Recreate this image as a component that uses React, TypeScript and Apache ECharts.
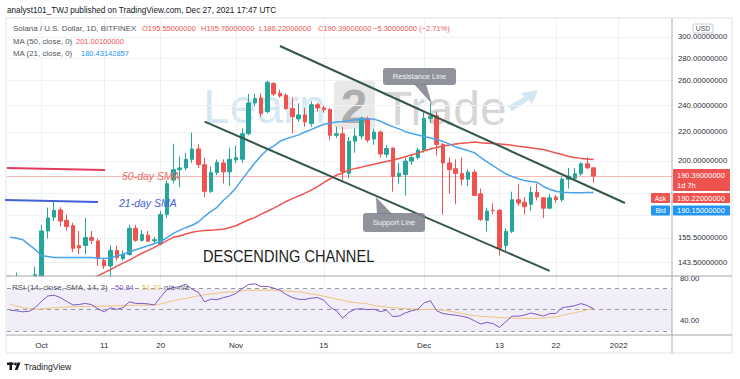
import React, { useEffect, useRef } from "react";
import * as echarts from "echarts";

const FONT = '"Liberation Sans", Arial, sans-serif';

// Daily candles, Sep 26 2021 -> Dec 28 2021 (94 sessions), Solana / USD, Bitfinex
const opens = [136.0,133.0,134.5,133.0,135.5,137.2,159.1,166.4,170.4,164.7,161.9,151.7,151.7,155.7,154.0,144.4,141.9,149.3,145.3,147.3,160.5,154.3,156.9,154.0,152.5,167.9,187.9,194.4,195.5,201.1,208.0,197.6,181.1,192.6,198.7,193.0,200.7,201.1,218.6,241.8,245.8,235.0,257.8,249.5,248.0,237.4,229.5,232.5,226.0,240.4,237.9,236.6,217.5,218.6,192.1,213.4,217.0,229.9,214.9,219.8,204.4,208.6,190.1,191.4,199.9,202.2,207.3,229.9,231.9,211.1,198.7,195.0,192.0,188.4,192.8,179.6,164.7,170.2,170.2,151.7,158.9,176.2,174.8,173.6,180.5,177.3,171.4,177.7,176.2,188.4,189.0,191.8,198.2,195.55];
const closes = [133.0,134.5,133.0,135.5,137.9,159.1,166.0,170.2,164.3,161.4,150.3,150.5,155.7,154.3,145.3,141.9,149.3,145.8,147.3,160.5,154.3,157.3,153.9,154.6,167.9,185.7,194.4,195.5,201.1,208.0,197.6,181.1,192.6,199.0,193.0,201.1,202.2,218.6,241.8,245.3,233.7,258.7,249.0,247.4,237.4,231.2,232.5,227.3,240.4,237.9,236.6,217.5,218.6,193.2,213.4,217.0,229.9,214.2,219.8,204.6,208.3,190.1,192.1,199.9,202.2,207.3,229.9,231.2,211.1,198.7,194.4,192.0,188.4,192.8,178.7,165.2,169.8,170.0,150.3,158.9,176.2,174.3,172.2,180.5,177.8,171.4,177.3,176.2,188.4,190.3,191.8,198.2,195.6,190.39];
const lows = [131.0,130.0,129.0,131.0,133.0,135.0,155.2,164.3,161.4,159.1,148.5,147.5,147.5,152.5,141.9,140.5,135.0,144.4,144.4,146.7,153.5,153.5,153.5,152.5,151.7,166.0,185.7,183.6,194.0,198.7,195.5,177.7,180.1,191.0,185.7,184.5,198.7,198.7,217.5,239.2,231.2,233.7,247.4,246.0,236.2,218.9,227.3,223.7,223.7,235.0,234.2,214.1,215.6,187.9,189.0,205.5,214.6,212.5,210.8,202.2,202.2,180.9,185.7,178.6,197.4,200.9,205.5,226.6,203.5,167.9,179.6,173.6,184.8,184.2,178.3,164.3,158.8,167.9,146.7,148.5,158.0,172.7,167.9,169.8,175.8,166.0,170.8,174.4,175.0,182.7,187.9,190.5,194.8,186.22];
const highs = [137.6,138.8,136.4,137.2,141.5,162.3,171.7,176.0,171.9,167.9,163.4,159.1,166.0,159.1,155.2,145.8,151.7,151.7,149.3,162.3,162.3,159.6,159.1,156.0,169.8,187.7,211.6,203.0,205.5,219.3,211.3,202.2,196.6,200.9,201.1,208.8,210.3,222.4,249.0,249.0,249.5,260.0,258.7,252.6,249.5,246.3,241.5,237.9,243.1,241.8,239.5,237.9,223.7,223.7,216.3,222.4,231.2,231.2,222.4,221.0,210.8,209.1,198.7,202.2,204.2,208.8,235.0,241.5,235.0,212.2,202.2,201.1,202.2,194.6,194.6,182.7,171.7,174.2,170.8,160.4,180.9,185.7,177.7,183.9,185.7,177.7,179.6,179.0,190.1,195.5,195.5,199.2,202.5,195.76];

const ma50 = [null,null,null,null,null,null,null,null,null,null,null,null,
  134.9,135.8,137.4,138.8,140.2,141.8,143.2,144.6,146.3,147.9,
  149.3,150.8,152.5,154.1,155.8,156.5,157.5,158.4,159.0,159.3,
  159.5,159.7,160.0,160.9,161.8,163.4,165.0,166.2,168.1,169.7,
  171.4,173.3,175.2,176.8,178.4,180.0,181.8,183.9,186.4,188.7,
  190.9,192.3,194.1,195.2,196.0,197.0,197.8,198.8,199.6,200.6,
  201.6,202.8,204.1,205.2,206.8,208.0,209.0,210.1,210.8,211.4,
  211.9,212.3,212.8,212.3,212.0,211.7,211.4,211.1,210.5,209.9,
  209.4,208.8,208.2,207.6,206.4,205.3,204.3,203.0,202.3,201.7,
  201.3,201.0];
const ma21 = [155.8,155.5,154.6,152.1,149.7,146.7,146.3,145.9,145.9,145.9,
  145.9,145.9,145.9,145.9,145.5,145.4,145.8,146.6,147.4,148.5,
  149.6,150.6,151.6,152.7,153.7,155.7,157.8,159.4,160.8,162.1,
  163.8,166.9,169.6,171.9,175.9,179.1,183.3,188.3,193.6,198.7,
  203.5,207.6,210.0,213.3,215.1,216.4,217.8,219.9,221.6,223.7,
  225.5,226.2,227.1,227.6,228.2,228.8,229.3,229.7,229.3,227.8,
  225.5,223.8,222.1,220.1,218.8,217.7,216.7,215.6,214.6,213.2,
  211.5,209.4,208.1,206.9,205.5,202.3,199.4,196.8,194.3,191.8,
  190.1,188.7,187.6,187.0,186.5,184.0,182.3,181.2,180.6,180.4,
  180.3,180.3,180.4,180.43];

const rsi = [49.5,49,48,48.5,52,58,63,63.8,61.5,58,
  54.5,55,56,54.8,50.8,48,51.8,50.3,52,57.5,
  56,56,55.5,54.5,62,69,71,71.8,74.3,69.5,
  66.5,57.5,60,59.5,61.5,63,65.5,70,74,74.5,
  72,72.2,70.5,68.5,64.5,61.5,59.8,59.8,61,61.5,
  59,52.5,49,42,47.5,50.5,51,50,50.5,48.2,
  49.5,43.5,44,47,49,50.5,56.5,58.5,49,46.3,
  45.5,44.8,43.8,42.5,39.5,36.5,38,36.8,33.2,38.5,
  43.9,43.9,45,46.8,45.5,44,46.3,46.5,52,52.8,
  53.8,55.8,54,50.84];
const rsiMa = [55,53.5,52,51,50.3,50.8,51.3,51.8,52.3,52.5,
  52.8,53,53,53,53.3,53.5,53.6,53.8,54,54,
  54.2,54.3,54.4,54.5,55.5,57,58.5,59.8,60.7,62,
  63.2,64.3,65,65.8,66.3,66.8,67.3,67.8,68.3,68.6,
  68.6,68.6,68.6,68.2,67.8,67.3,67,66,65,64,
  62.8,61.5,60,59,57.5,56.8,56.2,55.5,54,53.2,
  52.6,52,51.5,51,50.6,50.3,50.3,50.3,50.2,49.6,
  48.6,47.6,46.5,45.2,44.5,43.8,43.3,43,42.6,42.2,
  42,41.8,41.8,41.8,41.8,42,42.5,43.3,44.5,46,
  47.2,48.5,50,51.2];

const priceTicks = [300, 280, 260, 240, 220, 200, 155.5, 143.5];
const hiddenPriceTicks = [180, 167.5];
const timeTickIdx = [5, 15, 24, 36, 50, 66, 78, 87, 97];
const timeTickLabels = ["Oct", "11", "20", "Nov", "15", "Dec", "13", "22", "2022"];
const lastPrice = 190.39;
// drawn channel: [start index, price] -> [end index, price]
const resistanceLine = [[43, 291.3], [98, 174.3]];
const supportLine = [[31, 227.4], [86, 139.6]];

const N_SLOTS = 106;
const dates: string[] = [];
for (let i = 0; i < N_SLOTS; i++) {
  const d = new Date(Date.UTC(2021, 8, 26 + i));
  dates.push(d.toISOString().slice(0, 10));
}
const labelMap: Record<number, string> = {};
timeTickIdx.forEach((k, j) => (labelMap[k] = timeTickLabels[j]));

const UP = "#26a69a";
const DOWN = "#ef5350";

function T(text: string, x: number, y: number, size: number, fill: string, extra: any = {}) {
  return {
    type: "text",
    z: 100,
    style: {
      text,
      x,
      y,
      fill,
      font: `${extra.style || ""} ${extra.weight || ""} ${size}px ${FONT}`,
      textAlign: extra.align || "left",
      textVerticalAlign: "middle",
    },
  };
}
function L(x1: number, y1: number, x2: number, y2: number, stroke: string, w = 1, z = 100) {
  return { type: "line", z, shape: { x1, y1, x2, y2 }, style: { stroke, lineWidth: w } };
}
function R(x: number, y: number, w: number, h: number, fill: string, r = 0, stroke?: string, z = 100) {
  return { type: "rect", z, shape: { x, y, width: w, height: h, r }, style: { fill, stroke, lineWidth: stroke ? 1 : 0 } };
}

export default function App() {
  const ref = useRef<HTMLDivElement>(null);
  useEffect(() => {
    document.body.style.margin = "0";
    const chart = echarts.init(ref.current!, null, { renderer: "svg" });
    const ohlc = opens.map((o, i) => [o, closes[i], lows[i], highs[i]]);
    const gridLine = { color: "#eef1f6", width: 1, type: "solid" };

    const graphic: any[] = [
      // watermark
      { type: "text", z: 0, style: { text: "Learn", x: 203, y: 106, fill: "rgba(130,186,220,0.34)", font: `48px ${FONT}`, textVerticalAlign: "middle" } },
      R(334, 81, 41, 48, "rgba(140,140,140,0.2)", 4, undefined, 0),
      { type: "text", z: 0, style: { text: "2", x: 354, y: 106, fill: "rgba(90,90,90,0.42)", font: `bold 48px ${FONT}`, textAlign: "center", textVerticalAlign: "middle" } },
      { type: "text", z: 0, style: { text: "Trade", x: 383, y: 108, fill: "rgba(110,110,110,0.3)", font: `48px ${FONT}`, textVerticalAlign: "middle" } },
      { type: "polygon", z: 0, shape: { points: [[508, 106], [524, 97], [521, 93], [538, 90], [532, 104], [529, 100], [512, 111]] }, style: { fill: "rgba(130,186,220,0.35)" } },

      // oscillator pane background (hides price marks overflowing the price pane)
      R(6.5, 276.5, 665, 58, "#ffffff", 0, undefined, 5),

      // frame
      L(6, 18, 732, 18, "#e0e3eb"),
      L(6, 18, 6, 353, "#e0e3eb"),
      L(732, 18, 732, 353, "#e0e3eb"),
      L(6, 353, 732, 353, "#e0e3eb"),
      L(672, 18, 672, 353, "#a9acb5"),
      L(6, 276, 732, 276, "#a3a6af"),
      L(6, 335, 732, 335, "#a3a6af"),

      // top header
      T("analyst101_TWJ published on TradingView.com, Dec 27, 2021 17:47 UTC", 7, 10, 8.2, "#131722"),
      T("Solana / U.S. Dollar, 1D, BITFINEX", 13, 28, 7.9, "#50535e"),
      T("O195.55000000", 142, 28, 7.5, DOWN),
      T("H195.76000000", 201, 28, 7.5, DOWN),
      T("L186.22000000", 259, 28, 7.5, DOWN),
      T("C190.39000000", 318, 28, 7.5, DOWN),
      T("\u22125.30000000 (\u22122.71%)", 373, 28, 7.5, DOWN),
      T("MA (50, close, 0)", 13, 41, 7.9, "#50535e"),
      T("201.00100000", 76, 41, 7.5, DOWN),
      T("MA (21, close, 0)", 13, 53, 7.9, "#50535e"),
      T("180.43142857", 81, 53, 7.5, "#2196f3"),

      // manual drawings
      L(7, 168, 105, 170, "#e33b5c", 2),
      L(5, 200, 98, 202, "#4361d8", 2),
      T("50-day SMA", 122, 176, 10.5, "#e66b63", { style: "italic" }),
      T("21-day SMA", 119, 203, 10.5, "#4262d6", { style: "italic" }),
      {
        type: "text", z: 100, x: 203, y: 256, scaleX: 0.86,
        style: { text: "DESCENDING CHANNEL", x: 0, y: 0, fill: "#1c1c1c", font: `17px ${FONT}`, textVerticalAlign: "middle" },
      },
      // callouts
      { type: "polygon", z: 100, shape: { points: [[414, 84], [426, 84], [432, 104]] }, style: { fill: "rgba(125,128,138,0.85)" } },
      R(383, 68, 73, 17, "rgba(125,128,138,0.85)", 3),
      T("Resistance Line", 419.5, 76.5, 7.5, "#f4f4f4", { align: "center" }),
      { type: "polygon", z: 100, shape: { points: [[377, 214], [392, 214], [376, 197]] }, style: { fill: "rgba(125,128,138,0.85)" } },
      R(363, 213, 62, 19, "rgba(125,128,138,0.85)", 3),
      T("Support Line", 394, 222.5, 7.5, "#f4f4f4", { align: "center" }),

      // right axis boxes
      R(693, 24, 20, 9, "#ffffff", 2, "#c9ccd4"),
      T("USD", 703, 28.5, 6.8, "#50535e", { align: "center" }),
      R(673, 169, 57, 22, DOWN, 1),
      T("190.39000000", 677, 175.5, 7.5, "#ffffff"),
      T("1d 7h", 677, 185.5, 7.5, "#ffffff"),
      R(651, 193, 19, 10, DOWN, 1),
      T("Ask", 660.5, 198, 7, "#ffffff", { align: "center" }),
      R(673, 193, 57, 10, DOWN, 1),
      T("190.22000000", 677, 198, 7.5, "#ffffff"),
      R(651, 205.5, 19, 10, "#2196f3", 1),
      T("Bid", 660.5, 210.5, 7, "#ffffff", { align: "center" }),
      R(673, 205.5, 57, 10, "#2196f3", 1),
      T("190.15000000", 677, 210.5, 7.5, "#ffffff"),

      // RSI legend
      T("RSI (14, close, SMA, 14, 2)", 12, 287, 7.9, "#50535e"),
      T("50.84", 115, 287, 7.5, "#7e57c2"),
      T("51.20", 142, 287, 7.5, "#e9bd5c"),
      T("n/a  n/a", 164, 287, 7.5, "#50535e"),

      // TradingView logo
      R(7, 362.5, 6.5, 2.5, "#131722"),
      R(9.5, 362.5, 2.5, 7.5, "#131722"),
      { type: "circle", z: 100, shape: { cx: 15.5, cy: 364, r: 1.4 }, style: { fill: "#131722" } },
      { type: "polygon", z: 100, shape: { points: [[17.5, 362.5], [20.5, 362.5], [17.5, 370], [14.8, 370]] }, style: { fill: "#131722" } },
      T("TradingView", 24, 366.5, 8.6, "#131722"),
    ];

    const option: any = {
      animation: false,
      backgroundColor: "#ffffff",
      textStyle: { fontFamily: FONT },
      grid: [
        { left: 7, width: 665, top: 18, height: 258 },
        { left: 7, width: 665, top: 276, height: 59 },
      ],
      xAxis: [
        {
          type: "category", gridIndex: 0, data: dates, boundaryGap: true,
          axisLine: { show: false }, axisTick: { show: false }, axisLabel: { show: false }, splitLine: { show: false },
        },
        {
          type: "category", gridIndex: 1, data: dates, boundaryGap: true,
          axisLine: { show: false }, axisTick: { show: false }, splitLine: { show: false },
          axisLabel: {
            show: true, margin: 6, fontSize: 8, color: "#2a2e39", fontFamily: FONT,
            interval: (i: number) => labelMap[i] !== undefined,
            formatter: (_v: string, i: number) => labelMap[i] ?? "",
          },
        },
      ],
      yAxis: [
        {
          type: "log", gridIndex: 0, min: 137.3, max: 319.2, position: "right",
          axisLine: { show: false }, axisTick: { show: false }, axisLabel: { show: false }, splitLine: { show: false },
        },
        {
          type: "value", gridIndex: 1, min: 26, max: 82, position: "right",
          axisLine: { show: false }, axisTick: { show: false }, splitLine: { show: false },
          axisLabel: {
            show: true, customValues: [40, 80], margin: 8, fontSize: 7.7, color: "#2a2e39", fontFamily: FONT,
            formatter: (v: number) => v.toFixed(2),
          },
        },
      ],
      series: [
        {
          type: "line", xAxisIndex: 0, yAxisIndex: 0, data: [], z: 1, silent: true,
          markLine: {
            z: 1, silent: true, symbol: ["none", "none"], label: { show: false }, lineStyle: gridLine,
            data: [
              ...priceTicks.map((v) => ({
                yAxis: v,
                label: { show: true, position: "end", distance: 6, formatter: v.toFixed(8), color: "#2a2e39", fontSize: 7.7, fontFamily: FONT },
              })),
              ...hiddenPriceTicks.map((v) => ({ yAxis: v })),
              ...timeTickIdx.map((k) => ({ xAxis: dates[k] })),
            ],
          },
        },
        {
          type: "line", xAxisIndex: 1, yAxisIndex: 1, data: [], z: 8, silent: true,
          markLine: {
            z: 8, silent: true, symbol: ["none", "none"], label: { show: false }, lineStyle: gridLine,
            data: timeTickIdx.map((k) => ({ xAxis: dates[k] })),
          },
        },
        {
          type: "candlestick", xAxisIndex: 0, yAxisIndex: 0, data: ohlc, z: 3, clip: true,
          barWidth: 4,
          itemStyle: { color: UP, color0: DOWN, borderColor: UP, borderColor0: DOWN, borderWidth: 1 },
          markLine: {
            z: 3, silent: true, symbol: ["none", "none"], label: { show: false },
            lineStyle: { color: "rgba(239,83,80,0.4)", width: 1, type: "solid" },
            data: [{ yAxis: lastPrice }],
          },
        },
        {
          type: "line", xAxisIndex: 0, yAxisIndex: 0, data: ma50, z: 4, symbol: "none", connectNulls: false,
          lineStyle: { color: "#ef5350", width: 1.5 },
        },
        {
          type: "line", xAxisIndex: 0, yAxisIndex: 0, data: ma21, z: 4, symbol: "none",
          lineStyle: { color: "#4aa3ec", width: 1.5 },
        },
        {
          type: "line", xAxisIndex: 0, yAxisIndex: 0, data: [], z: 6, silent: true,
          markLine: {
            z: 6, silent: true, symbol: ["none", "none"], label: { show: false },
            lineStyle: { color: "#35564a", width: 2, type: "solid" },
            data: [
              [{ coord: [dates[resistanceLine[0][0]], resistanceLine[0][1]] }, { coord: [dates[resistanceLine[1][0]], resistanceLine[1][1]] }],
              [{ coord: [dates[supportLine[0][0]], supportLine[0][1]] }, { coord: [dates[supportLine[1][0]], supportLine[1][1]] }],
            ],
          },
        },
        {
          type: "line", xAxisIndex: 1, yAxisIndex: 1, data: rsiMa, z: 10, symbol: "none",
          lineStyle: { color: "#f0c27a", width: 1 },
        },
        {
          type: "line", xAxisIndex: 1, yAxisIndex: 1, data: rsi, z: 11, symbol: "none",
          lineStyle: { color: "#7e57c2", width: 1 },
          markArea: { z: 7, silent: true, itemStyle: { color: "rgba(126,87,194,0.1)" }, data: [[{ yAxis: 70 }, { yAxis: 30 }]] },
          markLine: {
            z: 9, silent: true, symbol: ["none", "none"], label: { show: false },
            lineStyle: { color: "#9598a1", width: 1, type: [4, 4] },
            data: [{ yAxis: 70 }, { yAxis: 50 }, { yAxis: 30 }],
          },
        },
      ],
      graphic,
    };
    chart.setOption(option);
    return () => chart.dispose();
  }, []);
  return <div ref={ref} style={{ width: 740, height: 379 }} />;
}
